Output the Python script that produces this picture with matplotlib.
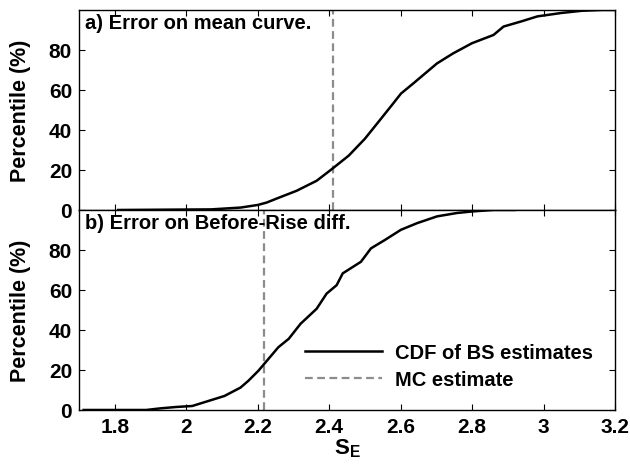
import matplotlib.pyplot as plt
import numpy as np

plt.rcParams['font.family'] = 'Liberation Sans'
plt.rcParams['font.weight'] = 'bold'
plt.rcParams['mathtext.fontset'] = 'custom'
plt.rcParams['mathtext.rm'] = 'Liberation Sans:bold'

# a) error on mean curve - CDF of bootstrap estimates
se_a = [1.81, 2.07, 2.152, 2.2, 2.225, 2.253, 2.309, 2.365, 2.408, 2.455, 2.5,
        2.545, 2.579, 2.601, 2.635, 2.702, 2.747, 2.8, 2.86, 2.888, 2.938,
        2.983, 3.05, 3.107, 3.164, 3.2]
pct_a = [0, 0.3, 1.2, 2.5, 3.7, 5.7, 9.6, 14.6, 20.5, 27.2, 35.6,
         45.6, 53.2, 58.2, 63.2, 73.3, 78.3, 83.4, 87.5, 91.7, 94.3,
         96.8, 98.5, 99.6, 100, 100]
mc_a = 2.41

# b) error on before-rise difference
se_b = [1.713, 1.888, 1.927, 1.972, 2.017, 2.062, 2.107, 2.152, 2.174, 2.202,
        2.23, 2.258, 2.287, 2.32, 2.365, 2.393, 2.421, 2.438, 2.489, 2.517,
        2.556, 2.601, 2.646, 2.702, 2.758, 2.803, 2.86, 2.92]
pct_b = [0, 0, 0.8, 1.5, 2, 4.5, 7, 11.2, 14.6, 19.6,
         25.5, 31.4, 35.6, 43.1, 50.6, 58.2, 62.4, 68.3, 74.1, 80.8,
         85, 90.1, 93.4, 96.8, 98.5, 99.3, 100, 100]
mc_b = 2.218

xticks = [1.8, 2, 2.2, 2.4, 2.6, 2.8, 3, 3.2]
xticklabels = ['1.8', '2', '2.2', '2.4', '2.6', '2.8', '3', '3.2']
yticks = [0, 20, 40, 60, 80]

fig = plt.figure(figsize=(6.3, 4.77), dpi=100)
ax1 = fig.add_axes([0.1254, 0.5577, 0.8508, 0.4193])
ax2 = fig.add_axes([0.1254, 0.1384, 0.8508, 0.4193])

panels = [(ax1, se_a, pct_a, mc_a, 'a) Error on mean curve.'),
          (ax2, se_b, pct_b, mc_b, 'b) Error on Before-Rise diff.')]

for ax, x, y, mc, title in panels:
    ax.plot(x, y, color='black', lw=1.8, label='CDF of BS estimates', zorder=3)
    ax.axvline(mc, color='#8c8c8c', lw=1.6, ls=(0, (3.5, 2)), label='MC estimate')
    ax.set_xlim(1.7, 3.2)
    ax.set_ylim(0, 100)
    ax.set_yticks(yticks)
    ax.set_xticks(xticks)
    ax.tick_params(direction='in', top=True, right=True, length=4, width=0.8,
                   labelsize=15, pad=5)
    for s in ax.spines.values():
        s.set_linewidth(1.0)
    ax.set_ylabel('Percentile (%)', fontsize=15.5, fontweight='bold')
    ax.yaxis.set_label_coords(-0.09, 0.5)
    ax.text(0.012, 0.985, title, transform=ax.transAxes, ha='left', va='top',
            fontsize=14.5, fontweight='bold')

ax1.set_xticklabels([])
ax2.set_xticklabels(xticklabels)
ax2.set_xlabel(r'$\mathrm{S}_\mathrm{E}$', fontsize=16, labelpad=0)
ax2.legend(loc='center left', bbox_to_anchor=(0.4216, 0.2205), frameon=False,
           fontsize=14.5, handlelength=3.8, handletextpad=0.65, labelspacing=0.4,
           borderpad=0, borderaxespad=0)

fig.savefig('out.png', dpi=100)
